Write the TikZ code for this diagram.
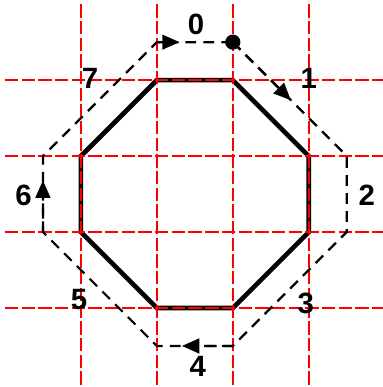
\documentclass[tikz,border=0pt]{standalone}
\usepackage{fontspec}
\setmainfont{Liberation Sans}
\usepackage{tikz}
\usetikzlibrary{arrows.meta, positioning, calc}

\begin{document}
\begin{tikzpicture}[>={Triangle[length=13pt, width=11pt]},
    gridline/.style={red, line width=1.1pt, dash pattern=on 10pt off 2.5pt},
    octline/.style={black, line width=3.5pt, line join=miter},
    pathline/.style={black, line width=1.7pt, dash pattern=on 8pt off 5.5pt},
    lbl/.style={font=\fontsize{22}{26}\selectfont\bfseries, inner sep=0pt}]
        \useasboundingbox (-5.13,-5.08) rectangle (4.95,5.11);
        % octagon corners
        \coordinate (o0) at (-1,3);  \coordinate (o1) at (1,3);
        \coordinate (o2) at (3,1);   \coordinate (o3) at (3,-1);
        \coordinate (o4) at (1,-3);  \coordinate (o5) at (-1,-3);
        \coordinate (o6) at (-3,-1); \coordinate (o7) at (-3,1);
        % dashed path corners
        \coordinate (p0) at (-1,4);  \coordinate (p1) at (1,4);
        \coordinate (p2) at (4,1);   \coordinate (p3) at (4,-1);
        \coordinate (p4) at (1,-4);  \coordinate (p5) at (-1,-4);
        \coordinate (p6) at (-4,-1); \coordinate (p7) at (-4,1);
        \draw [octline] (o0) -- (o1) -- (o2) -- (o3) -- (o4) -- (o5) -- (o6) -- (o7) -- cycle;
        % grid
        \foreach \g in {-3,-1,1,3} {
            \draw [gridline] (\g,5) -- (\g,-5.08);
            \draw [gridline] (-5,\g) -- (4.95,\g);
        }
        \draw [pathline] (p1) -- (p2) -- (p3) -- (p4) -- (p5) -- (p6) -- (p7) -- (p0) -- (p1);
        \draw [pathline, ->] (p0) -- ($(p0)!0.3!(p1)$);
        \draw [pathline, ->] (p1) -- ($(p1)!0.51!(p2)$);
        \draw [pathline, ->] (p4) -- ($(p4)!0.67!(p5)$);
        \draw [pathline, ->] (p6) -- ($(p6)!0.68!(p7)$);
        \fill (p1) circle (0.2);
        \node [lbl] (l0) at (0.03,4.47) {0};
        \node [lbl] (l1) at (3.0,3.05) {1};
        \node [lbl] (l2) at (4.53,-0.03) {2};
        \node [lbl] (l3) at (2.92,-2.89) {3};
        \node [lbl] (l4) at (0.08,-4.55) {4};
        \node [lbl] (l5) at (-3.05,-2.79) {5};
        \node [lbl] (l6) at (-4.51,-0.03) {6};
        \node [lbl] (l7) at (-2.76,3.05) {7};
    \end{tikzpicture}
\end{document}
